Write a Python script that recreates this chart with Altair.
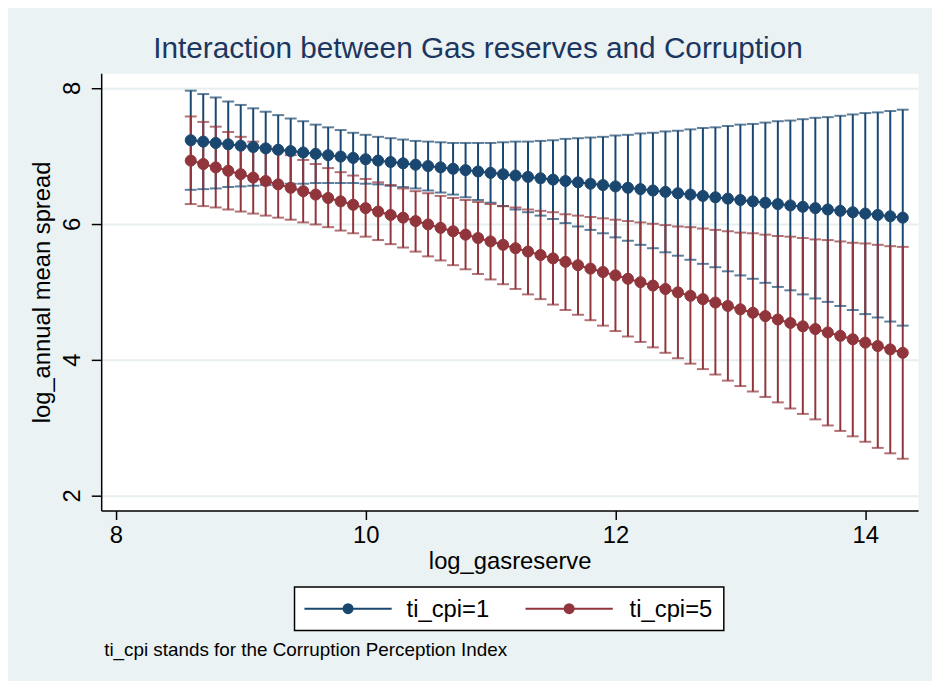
import altair as alt
import pandas as pd

# x grid (log_gasreserve values at which margins were computed)
gasreserve = [8.6, 8.7, 8.8, 8.9, 9.0, 9.1, 9.2, 9.3, 9.4, 9.5,
              9.6, 9.7, 9.8, 9.9, 10.0, 10.1, 10.2, 10.3, 10.4, 10.5,
              10.6, 10.7, 10.8, 10.9, 11.0, 11.1, 11.2, 11.3, 11.4, 11.5,
              11.6, 11.7, 11.8, 11.9, 12.0, 12.1, 12.2, 12.3, 12.4, 12.5,
              12.6, 12.7, 12.8, 12.9, 13.0, 13.1, 13.2, 13.3, 13.4, 13.5,
              13.6, 13.7, 13.8, 13.9, 14.0, 14.1, 14.2, 14.3]

# ti_cpi = 1
cpi1_margin = [7.23, 7.21, 7.19, 7.17, 7.15, 7.13, 7.11, 7.09, 7.07, 7.05,
               7.03, 7.01, 6.99, 6.97, 6.95, 6.93, 6.91, 6.89, 6.87, 6.85,
               6.83, 6.81, 6.79, 6.77, 6.75, 6.73, 6.71, 6.69, 6.67, 6.65,
               6.63, 6.61, 6.59, 6.57, 6.55, 6.53, 6.51, 6.49, 6.47, 6.45,
               6.43, 6.41, 6.39, 6.37, 6.35, 6.33, 6.31, 6.29, 6.27, 6.25,
               6.23, 6.21, 6.19, 6.17, 6.15, 6.13, 6.11, 6.09]
cpi1_lower = [6.50, 6.51, 6.52, 6.54, 6.55, 6.56, 6.57, 6.58, 6.59, 6.59,
              6.60, 6.60, 6.60, 6.60, 6.59, 6.58, 6.56, 6.54, 6.52, 6.49,
              6.46, 6.43, 6.39, 6.35, 6.31, 6.26, 6.21, 6.17, 6.12, 6.07,
              6.01, 5.96, 5.91, 5.86, 5.80, 5.75, 5.69, 5.64, 5.58, 5.53,
              5.47, 5.41, 5.36, 5.30, 5.24, 5.19, 5.13, 5.07, 5.02, 4.96,
              4.90, 4.85, 4.79, 4.73, 4.67, 4.62, 4.56, 4.50]
cpi1_upper = [7.96, 7.91, 7.86, 7.80, 7.75, 7.70, 7.65, 7.60, 7.55, 7.51,
              7.46, 7.42, 7.38, 7.34, 7.31, 7.28, 7.26, 7.24, 7.22, 7.21,
              7.20, 7.19, 7.19, 7.19, 7.19, 7.20, 7.21, 7.21, 7.22, 7.23,
              7.25, 7.26, 7.27, 7.28, 7.30, 7.31, 7.33, 7.34, 7.36, 7.37,
              7.39, 7.41, 7.42, 7.44, 7.46, 7.47, 7.49, 7.51, 7.52, 7.54,
              7.56, 7.57, 7.59, 7.61, 7.63, 7.64, 7.66, 7.68]

# ti_cpi = 5
cpi5_margin = [6.93, 6.88, 6.83, 6.78, 6.73, 6.68, 6.63, 6.58, 6.53, 6.48,
               6.43, 6.38, 6.33, 6.28, 6.23, 6.18, 6.13, 6.09, 6.04, 5.99,
               5.94, 5.89, 5.84, 5.79, 5.74, 5.69, 5.64, 5.59, 5.54, 5.49,
               5.44, 5.39, 5.34, 5.29, 5.24, 5.19, 5.14, 5.09, 5.04, 4.99,
               4.94, 4.89, 4.84, 4.79, 4.74, 4.69, 4.64, 4.59, 4.54, 4.49,
               4.45, 4.40, 4.35, 4.30, 4.25, 4.20, 4.15, 4.10]
cpi5_lower = [6.29, 6.26, 6.24, 6.21, 6.18, 6.15, 6.12, 6.09, 6.06, 6.02,
              5.99, 5.95, 5.90, 5.86, 5.81, 5.76, 5.70, 5.65, 5.59, 5.52,
              5.46, 5.39, 5.33, 5.26, 5.18, 5.11, 5.04, 4.96, 4.89, 4.81,
              4.73, 4.66, 4.58, 4.50, 4.42, 4.34, 4.26, 4.18, 4.10, 4.02,
              3.94, 3.86, 3.78, 3.69, 3.61, 3.53, 3.45, 3.37, 3.28, 3.20,
              3.12, 3.03, 2.95, 2.87, 2.79, 2.70, 2.62, 2.54]
cpi5_upper = [7.58, 7.50, 7.43, 7.35, 7.28, 7.21, 7.14, 7.07, 7.01, 6.94,
              6.88, 6.82, 6.76, 6.71, 6.66, 6.61, 6.57, 6.52, 6.48, 6.45,
              6.41, 6.38, 6.35, 6.32, 6.29, 6.26, 6.24, 6.21, 6.19, 6.17,
              6.14, 6.12, 6.10, 6.08, 6.06, 6.04, 6.02, 6.00, 5.98, 5.96,
              5.95, 5.93, 5.91, 5.89, 5.87, 5.86, 5.84, 5.82, 5.81, 5.79,
              5.77, 5.76, 5.74, 5.72, 5.71, 5.69, 5.67, 5.66]

series_labels = ["ti_cpi=1", "ti_cpi=5"]
series_colors = ["#1A476F", "#90353B"]
x_ticks = [8, 10, 12, 14]
y_ticks = [2, 4, 6, 8]
title_text = "Interaction between Gas reserves and Corruption"
x_title = "log_gasreserve"
y_title = "log_annual mean spread"
note_text = "ti_cpi stands for the Corruption Perception Index"

rows = []
for label, mv, lv, hv in [
    (series_labels[0], cpi1_margin, cpi1_lower, cpi1_upper),
    (series_labels[1], cpi5_margin, cpi5_lower, cpi5_upper),
]:
    for xv, m, lo, hi in zip(gasreserve, mv, lv, hv):
        rows.append({"x": xv, "margin": m, "lo": lo, "hi": hi, "series": label})
df = pd.DataFrame(rows)

FONT = "Liberation Sans"
AX_FS = 24
xscale = alt.Scale(domain=[7.883, 14.423], nice=False, zero=False)
yscale = alt.Scale(domain=[1.777, 8.215], nice=False, zero=False)
cscale = alt.Scale(domain=series_labels, range=series_colors)

x_axis = alt.Axis(values=x_ticks, format="d", grid=False, title=x_title,
                  tickSize=9, labelPadding=4, titleY=58,
                  titleBaseline="alphabetic")
y_axis = alt.Axis(values=y_ticks, format="d", grid=True, title=y_title,
                  tickSize=10, labelPadding=7, labelAngle=270,
                  labelAlign="center", labelBaseline="bottom",
                  titleAngle=270, titleX=-52, titleBaseline="alphabetic",
                  titleAlign="center")

X = alt.X("x:Q", scale=xscale, axis=x_axis)


def Y(field):
    return alt.Y(field, type="quantitative", scale=yscale, axis=y_axis)


col = alt.Color("series:N", scale=cscale, legend=None)

base = alt.Chart(df)

ci = base.mark_rule(strokeWidth=2).encode(x=X, y=Y("lo"), y2="hi:Q", color=col)
cap_lo = base.mark_tick(orient="horizontal", size=12, thickness=2).encode(
    x=X, y=Y("lo"), color=col)
cap_hi = base.mark_tick(orient="horizontal", size=12, thickness=2).encode(
    x=X, y=Y("hi"), color=col)
line = base.mark_line(strokeWidth=2).encode(x=X, y=Y("margin"), color=col)
points = base.mark_point(filled=True, size=125, opacity=1, strokeWidth=1).encode(
    x=X, y=Y("margin"), fill=col, stroke=col)

# ---- legend (Stata style: line + marker, boxed, below the plot) ----
box = alt.Chart(alt.Data(values=[{"k": 0}])).mark_rect(
    fill="white", stroke="black", strokeWidth=1.5
).encode(x=alt.value(195), x2=alt.value(628), y=alt.value(518), y2=alt.value(562))

legend_layers = [box]
for i, (lab, colr) in enumerate(zip(series_labels, series_colors)):
    d = alt.Data(values=[{"label": lab}])
    off = 223 * i
    legend_layers.append(
        alt.Chart(d).mark_rule(color=colr, strokeWidth=2).encode(
            x=alt.value(205 + off), x2=alt.value(293 + off), y=alt.value(540)))
    legend_layers.append(
        alt.Chart(d).mark_point(filled=True, size=122, opacity=1, color=colr,
                                strokeWidth=1).encode(
            x=alt.value(249 + off), y=alt.value(540)))
    legend_layers.append(
        alt.Chart(d).mark_text(align="left", baseline="middle", fontSize=AX_FS,
                               font=FONT, color="black").encode(
            text="label:N", x=alt.value(308 + off + 2 * i), y=alt.value(541)))

note = alt.Chart(alt.Data(values=[{"t": note_text}])).mark_text(
    align="left", baseline="middle", fontSize=19, font=FONT, color="black"
).encode(text="t:N", x=alt.value(3), y=alt.value(582))

chart = alt.layer(ci, cap_lo, cap_hi, line, points, *legend_layers, note).properties(
    width=824, height=441,
    autosize=alt.AutoSizeParams(type="none"),
    padding={"left": 94, "top": 63, "right": 14, "bottom": 169},
    title=alt.TitleParams(text=title_text, fontSize=30, font=FONT,
                          color="#1c3660", fontWeight="normal",
                          anchor="middle", frame="group", dx=-32, offset=9),
    background="#EAF2F3",
).configure_view(fill="white", stroke="transparent").configure_axis(
    labelFont=FONT, titleFont=FONT, labelFontSize=AX_FS, titleFontSize=AX_FS,
    titleFontWeight="normal", labelColor="black", titleColor="black",
    domainColor="black", domainWidth=1.5, tickColor="black", tickWidth=1.5,
    gridColor="#E6EEF0", gridWidth=2,
)

chart.save("out.html", embed_options={"renderer": "svg", "actions": False})
